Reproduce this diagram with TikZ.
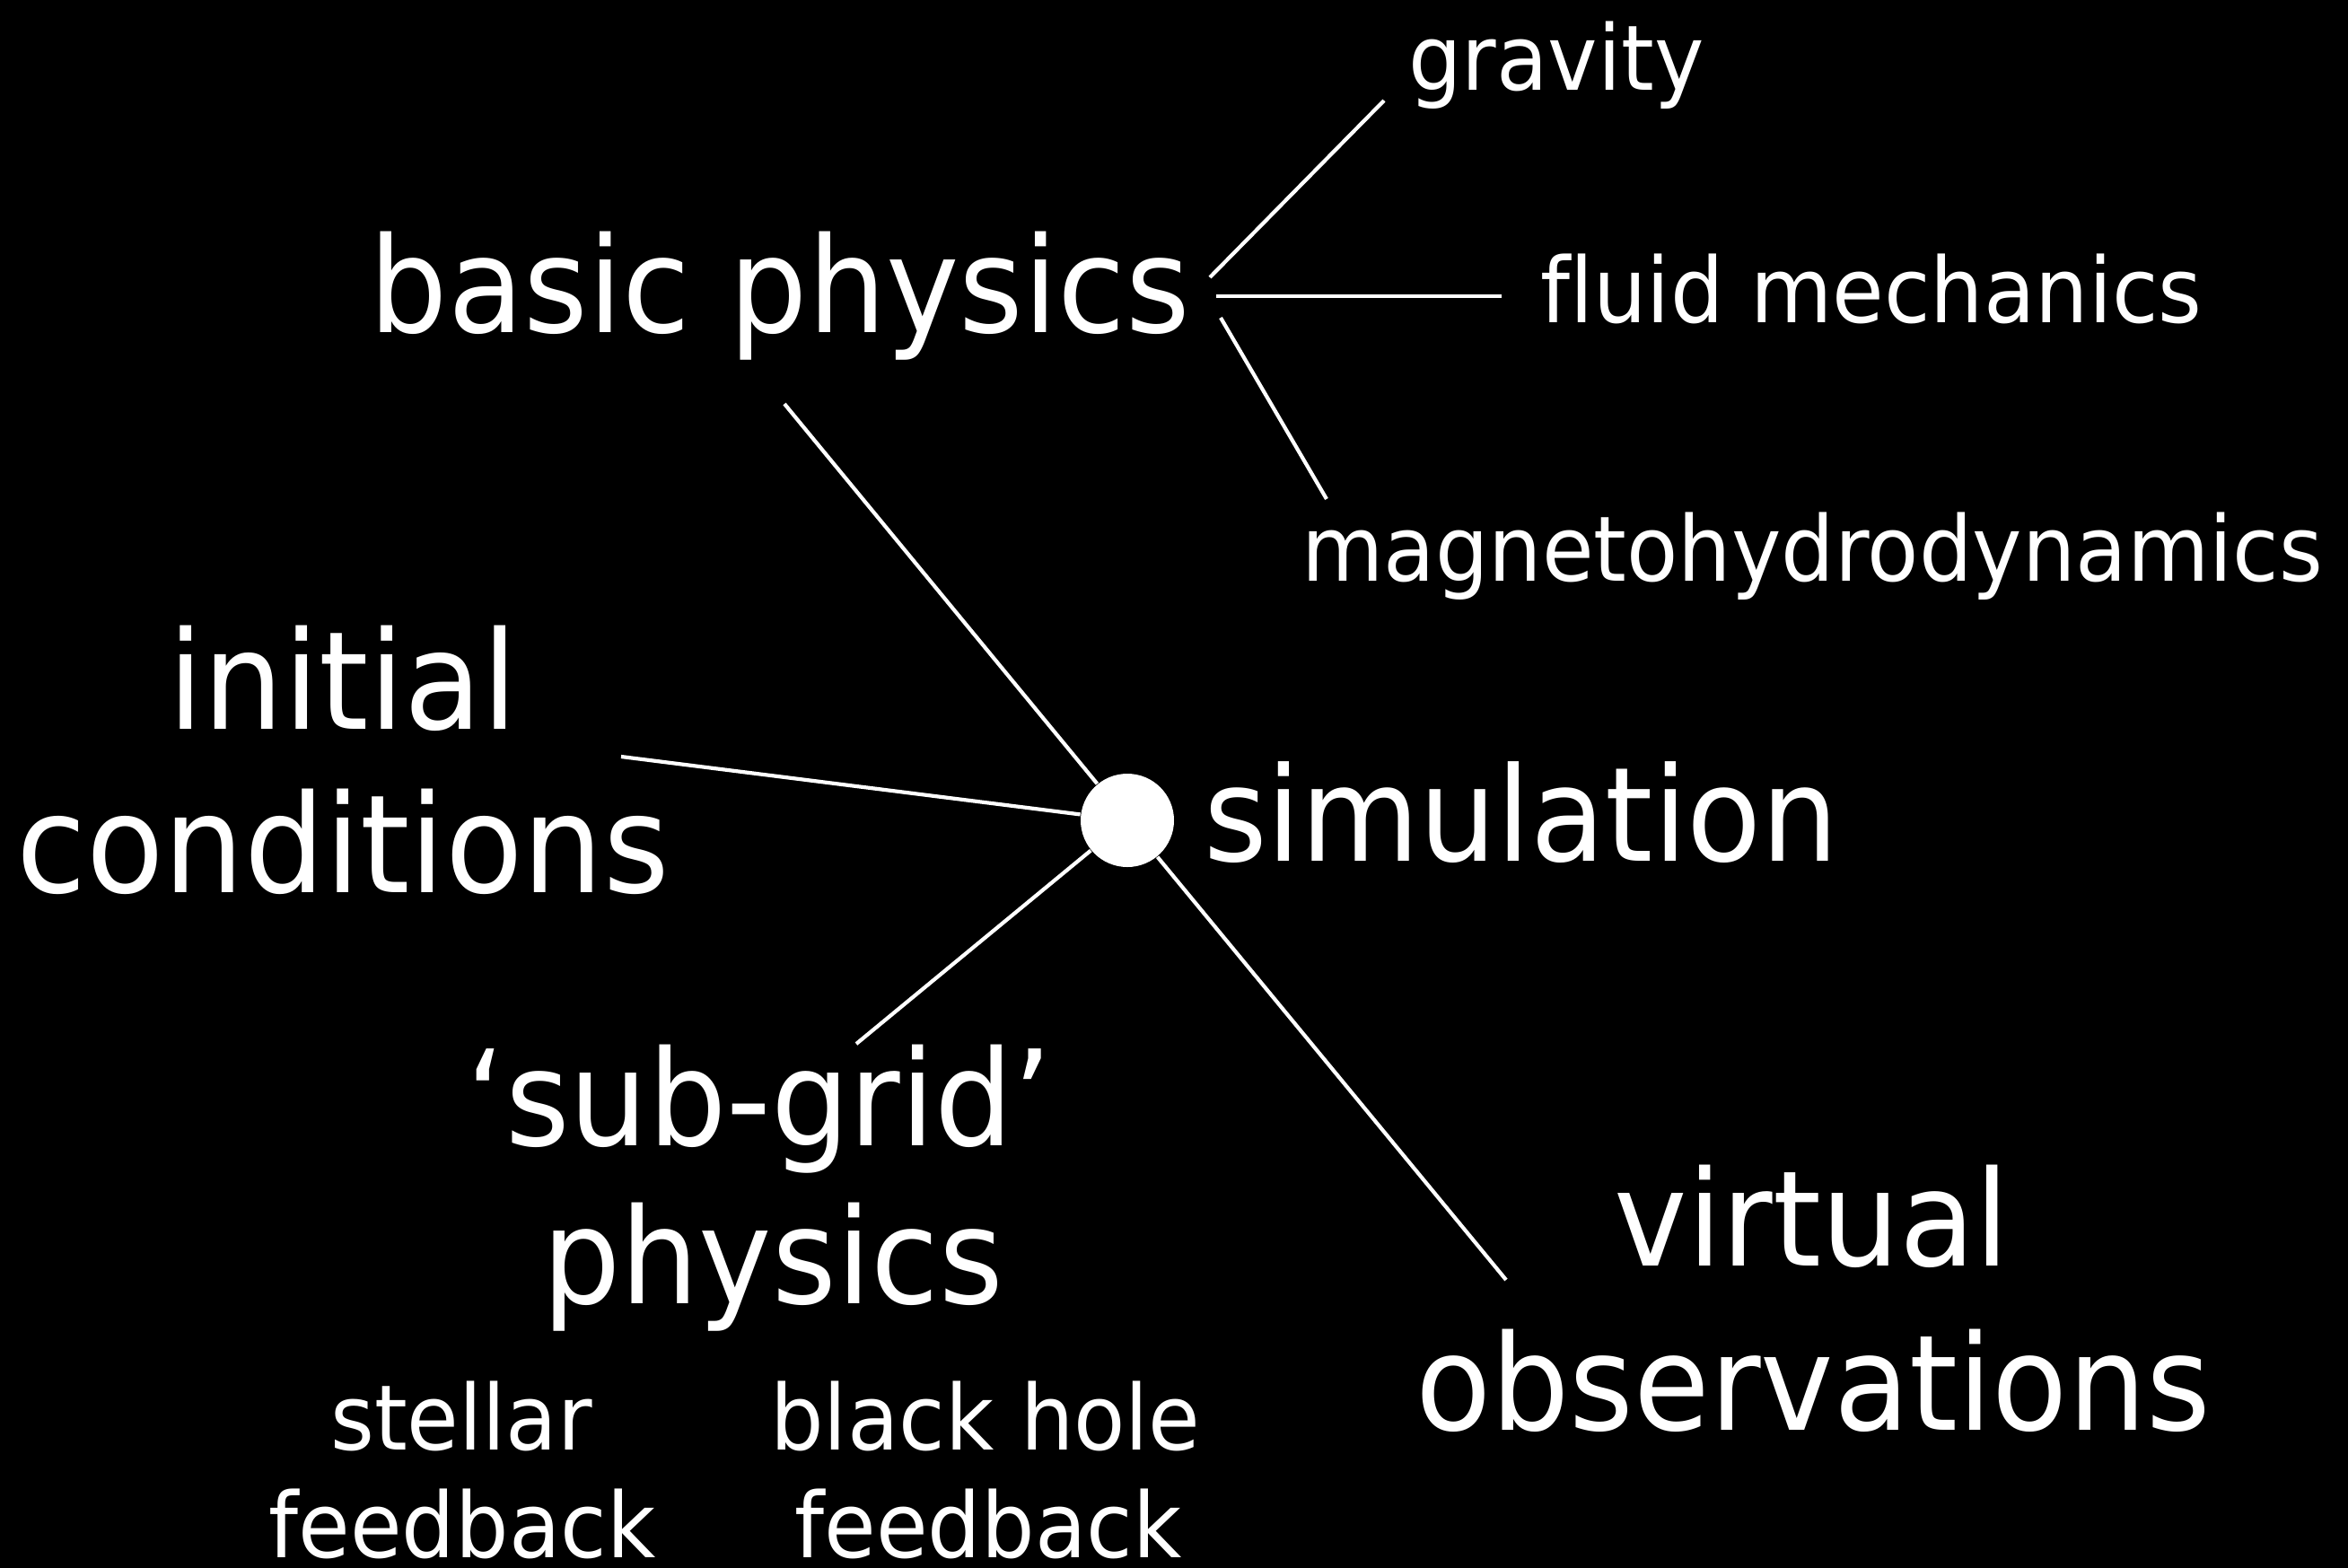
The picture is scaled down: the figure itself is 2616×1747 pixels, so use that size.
\documentclass[tikz,border=0pt]{standalone}
\usepackage{fontspec}
\setmainfont{DejaVu Sans}[FakeStretch=0.93,Ligatures={NoCommon}]
\begin{document}
\begin{tikzpicture}[x=0.25pt,y=-0.25pt,
  bigtxt/.style={text=white,inner sep=0pt,anchor=base,font=\fontsize{37pt}{44pt}\selectfont},
  midtxt/.style={text=white,inner sep=0pt,anchor=base,font=\fontsize{25.2pt}{30pt}\selectfont},
  link/.style={draw=white,line width=1.05pt}]
\fill[black] (0,0) rectangle (2616,1747);
\useasboundingbox (0,0) rectangle (2616,1747);
% nodes
\node[circle,fill=white,draw=none,minimum size=26pt,inner sep=0pt] (sim) at (1256,914) {};
\node[bigtxt,font=\fontsize{36.5pt}{44pt}\selectfont] (simt) at (1695,959) {simulation};
\node[bigtxt] (bp) at (869,370) {basic physics};
\node[midtxt] (grav) at (1734,100) {gravity};
\node[midtxt] (fluid) at (2085,359) {fluid mechanics};
\node[midtxt] (mhd) at (2019,647) {magnetohydrodynamics};
\node[bigtxt,font=\fontsize{38pt}{44pt}\selectfont] (ic1) at (382,812) {initial};
\node[bigtxt,font=\fontsize{38pt}{44pt}\selectfont] (ic2) at (382,994) {conditions};
\node[bigtxt] (sg1) at (846,1276) {‘sub-grid’};
\node[bigtxt] (sg2) at (861,1452) {physics};
\node[midtxt] (st1) at (514,1615) {stellar};
\node[midtxt] (st2) at (515,1735) {feedback};
\node[midtxt] (bh1) at (1098,1615) {black hole};
\node[midtxt] (bh2) at (1101,1735) {feedback};
\node[bigtxt] (vo1) at (2019,1410) {virtual};
\node[bigtxt] (vo2) at (2020,1593) {observations};
% connector ends
\coordinate (g1) at (1348,309);
\coordinate (g2) at (1542,112);
\coordinate (f1) at (1355,330);
\coordinate (f2) at (1673,330);
\coordinate (m1) at (1360,354);
\coordinate (m2) at (1478,556);
\coordinate (bpend) at (874,450);
\coordinate (icend) at (692,843);
\coordinate (sgend) at (954,1163);
\coordinate (voend) at (1678,1426);
% connectors
\draw[link] (g1) -- (g2);
\draw[link] (f1) -- (f2);
\draw[link] (m1) -- (m2);
\draw[link] (sim) -- (bpend);
\draw[link] (sim) -- (icend);
\draw[link] (sim) -- (sgend);
\draw[link] (sim) -- (voend);
\end{tikzpicture}
\end{document}
